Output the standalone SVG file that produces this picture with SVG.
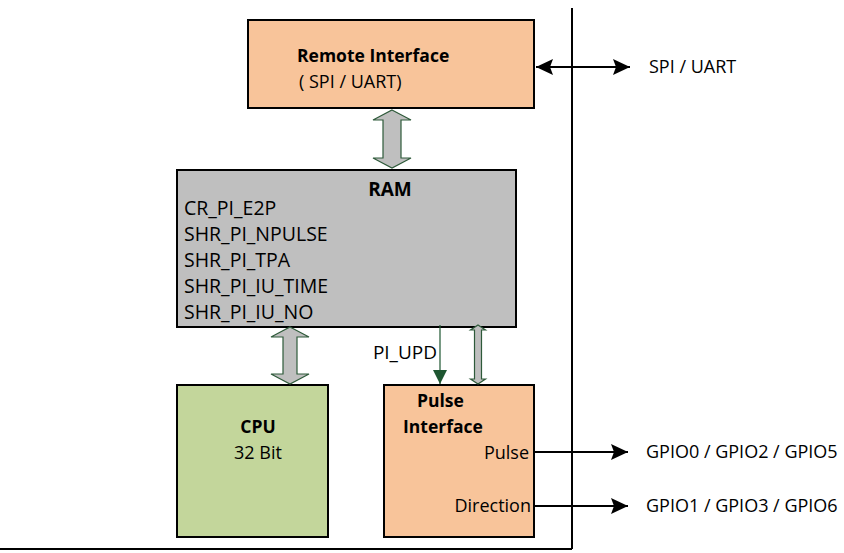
<svg xmlns="http://www.w3.org/2000/svg" width="844" height="553" viewBox="0 0 844 553">
<style>
.t{font-family:"Open Sans","Liberation Sans",sans-serif;font-size:18px;fill:#000}
.b{font-weight:bold;font-size:17.5px}
.r{font-size:19.5px}
.box{stroke:#000;stroke-width:2}
.blk{fill:#BFBFBF;stroke:#2E5A3A;stroke-width:1.2}
.ln{stroke:#000;stroke-width:2;fill:none}
</style>
<defs>
<marker id="ah" viewBox="0 0 17 16" refX="17" refY="8" markerWidth="17" markerHeight="16" markerUnits="userSpaceOnUse" orient="auto-start-reverse">
<path d="M0,0 L17,8 L0,16 L3,8 Z" fill="#000"/>
</marker>
<marker id="gh" viewBox="0 0 14 16" refX="14" refY="7" markerWidth="14" markerHeight="16" markerUnits="userSpaceOnUse" orient="auto">
<path d="M0,0 L14,7 L0,14 Z" fill="#1E5631"/>
</marker>
</defs>
<g id="frame">
<line class="ln" x1="572" y1="8" x2="572" y2="549" stroke-width="1.5"/>
<line class="ln" x1="0" y1="549" x2="572" y2="549" stroke-width="1.5"/>
</g>
<g id="remote">
<rect class="box" x="248" y="20" width="286" height="88" fill="#F8C49A"/>
<text class="t b" x="297" y="62">Remote Interface</text>
<text class="t" x="299" y="88">( SPI / UART)</text>
</g>
<g id="ram">
<rect class="box" x="177" y="170" width="339" height="157" fill="#BFBFBF"/>
<text class="t b" x="390" y="196" text-anchor="middle" style="font-size:19px">RAM</text>
<text class="t r" x="184" y="215">CR_PI_E2P</text>
<text class="t r" x="184" y="241">SHR_PI_NPULSE</text>
<text class="t r" x="184" y="267">SHR_PI_TPA</text>
<text class="t r" x="184" y="293">SHR_PI_IU_TIME</text>
<text class="t r" x="184" y="319">SHR_PI_IU_NO</text>
</g>
<g id="cpu">
<rect class="box" x="177" y="385" width="151" height="152" fill="#C3D69B"/>
<text class="t b" x="258" y="433" text-anchor="middle">CPU</text>
<text class="t" x="258" y="459" text-anchor="middle">32 Bit</text>
</g>
<g id="pulse">
<rect class="box" x="384" y="385" width="150" height="152" fill="#F8C49A"/>
<text class="t b" x="417" y="407">Pulse</text>
<text class="t b" x="403" y="433">Interface</text>
<text class="t" x="529" y="459" text-anchor="end">Pulse</text>
<text class="t" x="531" y="512" text-anchor="end">Direction</text>
</g>
<g id="connectors">
<path class="blk" d="M392,110 L411,120 L401,120 L401,158 L411,158 L392,168 L373,158 L383,158 L383,120 L373,120 Z"/>
<path class="blk" d="M290,327 L309,337 L297,337 L297,374 L309,374 L290,384 L271,374 L283,374 L283,337 L271,337 Z"/>
<path class="blk" d="M478,325 L485.5,330 L481.5,330 L481.5,379 L485.5,379 L478,384 L470.5,379 L474.5,379 L474.5,330 L470.5,330 Z"/>
<line x1="440" y1="325" x2="440" y2="384" stroke="#1E5631" stroke-width="1.2" marker-end="url(#gh)"/>
<text class="t" x="437" y="359" text-anchor="end" style="font-size:19px">PI_UPD</text>
<line class="ln" x1="536" y1="67" x2="630" y2="67" marker-start="url(#ah)" marker-end="url(#ah)"/>
<line class="ln" x1="534" y1="452" x2="628" y2="452" marker-end="url(#ah)"/>
<line class="ln" x1="534" y1="506" x2="628" y2="506" marker-end="url(#ah)"/>
</g>
<g id="labels">
<text class="t" x="649" y="73">SPI / UART</text>
<text class="t" x="646" y="458">GPIO0 / GPIO2 / GPIO5</text>
<text class="t" x="646" y="512">GPIO1 / GPIO3 / GPIO6</text>
</g>
</svg>
